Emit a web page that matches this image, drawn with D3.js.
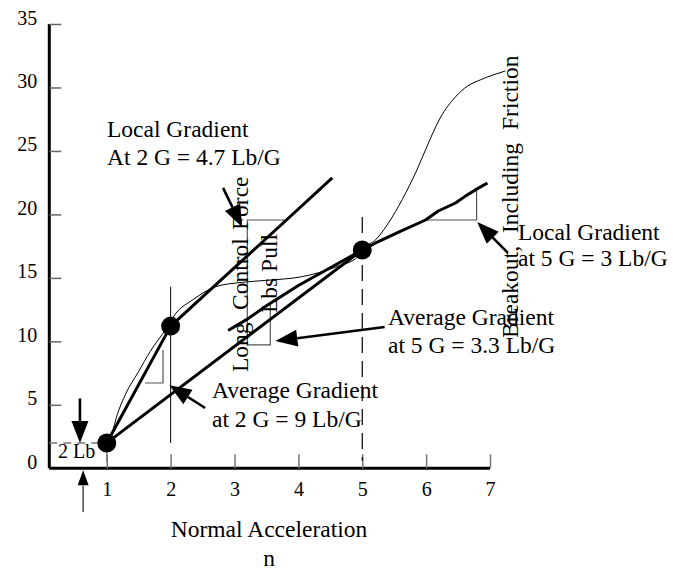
<!DOCTYPE html>
<html>
<head>
<meta charset="utf-8">
<script src="https://cdn.jsdelivr.net/npm/d3@7"></script>
<style>
  html, body { margin: 0; padding: 0; background: #fff; }
  svg { display: block; }
  text { font-family: "Liberation Serif", "Times New Roman", serif; fill: #000; }
</style>
</head>
<body>
<div id="chart"></div>
<script>
// Stick force vs. normal acceleration (n), with breakout and gradients.
const xTicks = [1, 2, 3, 4, 5, 6, 7];
const yTicks = [0, 5, 10, 15, 20, 25, 30, 35];

const breakout = 2;            // Lb, force at 1 G
const markedPoints = [         // [n, Lb]
  [1, 2], [2, 11.2], [5, 17.2]
];

// Curve including friction (thin)
const frictionCurve = [
  [1, 2], [1.09, 2.9], [1.15, 4.0], [1.30, 5.9], [1.49, 7.55], [1.68, 9.2],
  [1.93, 11.0], [2.08, 12.2], [2.34, 13.25], [2.70, 14.3], [3.12, 14.65],
  [3.48, 14.8], [4.06, 15.1], [4.58, 15.85], [4.94, 16.7], [5, 17.2],
  [5.21, 18.0], [5.47, 19.8], [5.68, 21.69], [5.84, 23.33], [5.99, 25.08],
  [6.22, 27.6], [6.46, 29.26], [6.65, 30.12], [6.85, 30.6], [7.24, 31.3]
];

// Local gradient line through the 2 G point (thick)
const tangent2G = [[1, 2], [2, 11.2], [3.8, 19.5], [4.53, 22.88]];

// Average gradient line 1 G -> 5 G (thick)
const chord5G = [[1, 2], [5, 17.2]];

// Stick force curve (thick)
const forceCurve = [
  [2.9, 10.85], [3.2, 11.75], [3.5, 12.8], [4.0, 14.4], [4.5, 15.8], [5, 17.2],
  [5.21, 17.75], [5.57, 18.6], [5.99, 19.56], [6.19, 20.27], [6.46, 20.9],
  [6.62, 21.46], [6.77, 21.93], [6.96, 22.48]
];

// Gradient construction lines (thin)
const bracketMid = [[3.77, 19.2], [3.77, 19.56], [3.20, 19.56], [3.20, 9.72], [3.56, 9.72], [3.56, 12.95]];
const tri2GAvg = [[1.60, 6.72], [1.88, 6.72], [1.88, 9.32]];
const tri5GLocal = [[5.99, 19.56], [6.79, 19.56], [6.79, 21.95]];

// Annotation arrows [fromN, fromLb, toN, toLb]
const arrows = [
  [2.82, 22.09, 3.12, 19.0],
  [2.54, 4.75, 1.98, 6.55],
  [5.35, 11.13, 3.64, 10.03],
  [7.28, 16.97, 6.80, 19.4],
  [0.58, 5.5, 0.58, 2.0]
];

const W = 673, H = 571;
const x = d3.scaleLinear().domain([0.1, 7]).range([49.3, 490]);
const y = d3.scaleLinear().domain([0, 35]).range([468.3, 24]);

const svg = d3.select("#chart").append("svg")
  .attr("width", W).attr("height", H);

// Axes
const xAxis = d3.axisBottom(x).tickValues(xTicks).tickSize(-14).tickPadding(14)
  .tickFormat(d3.format("d"));
const gx = svg.append("g").attr("transform", `translate(0,${y(0)})`).call(xAxis);
gx.select(".domain").attr("d", `M${x(0.1)},0H${x(7)}`).attr("stroke", "#000").attr("stroke-width", 3);
gx.selectAll(".tick line").attr("stroke", "#777").attr("stroke-width", 1.5);
gx.selectAll(".tick text").attr("font-size", 20).attr("dy", "0.71em")
  .style("font-family", "Liberation Serif, serif").attr("fill", "#000");

const yAxis = d3.axisLeft(y).tickValues(yTicks).tickSize(-12).tickPadding(12)
  .tickFormat(d3.format("d"));
const gy = svg.append("g").attr("transform", `translate(${x(0.1)},0)`).call(yAxis);
gy.select(".domain").attr("d", `M0,${y(0)}V${y(35)}`).attr("stroke", "#000").attr("stroke-width", 3);
gy.selectAll(".tick line").attr("stroke", "#666").attr("stroke-width", 1.5);
gy.selectAll(".tick line").filter(d => d === 0).remove();
gy.selectAll(".tick text").attr("font-size", 20).attr("dy", "0em")
  .style("font-family", "Liberation Serif, serif").attr("fill", "#000");

const line = d3.line().x(d => x(d[0])).y(d => y(d[1]));
const smooth = d3.line().x(d => x(d[0])).y(d => y(d[1])).curve(d3.curveMonotoneX);

// Breakout reference lines
svg.append("line")
  .attr("x1", x(0.1)).attr("x2", x(1)).attr("y1", y(breakout)).attr("y2", y(breakout))
  .attr("stroke", "#777").attr("stroke-width", 1.5).attr("stroke-dasharray", "8,6");
svg.append("line")
  .attr("x1", x(1)).attr("x2", x(1)).attr("y1", y(breakout)).attr("y2", y(0.5))
  .attr("stroke", "#777").attr("stroke-width", 1.2);

// Vertical reference at 2 G and dashed at 5 G
svg.append("line")
  .attr("x1", x(2)).attr("x2", x(2)).attr("y1", y(14.3)).attr("y2", y(2))
  .attr("stroke", "#000").attr("stroke-width", 1);
svg.append("line")
  .attr("x1", x(5)).attr("x2", x(5)).attr("y1", y(19.8)).attr("y2", y(0.6))
  .attr("stroke", "#000").attr("stroke-width", 1.2).attr("stroke-dasharray", "16,8");

// Gradient construction lines
[bracketMid, tri2GAvg, tri5GLocal].forEach(t => {
  svg.append("path").attr("d", line(t)).attr("fill", "none")
    .attr("stroke", "#555").attr("stroke-width", 1.2);
});

// Curves
svg.append("path").attr("d", smooth(frictionCurve)).attr("fill", "none")
  .attr("stroke", "#000").attr("stroke-width", 1);
svg.append("path").attr("d", line(tangent2G)).attr("fill", "none")
  .attr("stroke", "#000").attr("stroke-width", 3).attr("stroke-linejoin", "round");
svg.append("path").attr("d", line(chord5G)).attr("fill", "none")
  .attr("stroke", "#000").attr("stroke-width", 3);
svg.append("path").attr("d", line(forceCurve)).attr("fill", "none")
  .attr("stroke", "#000").attr("stroke-width", 3).attr("stroke-linejoin", "round");

// Marked points
svg.selectAll("circle.pt").data(markedPoints).join("circle")
  .attr("class", "pt").attr("cx", d => x(d[0])).attr("cy", d => y(d[1]))
  .attr("r", 9.5).attr("fill", "#000");

// Arrows
function arrow(x1, y1, x2, y2, color, hl, hw, sw) {
  const a = Math.atan2(y2 - y1, x2 - x1);
  const bx = x2 - hl * Math.cos(a), by = y2 - hl * Math.sin(a);
  svg.append("line").attr("x1", x1).attr("y1", y1).attr("x2", bx).attr("y2", by)
    .attr("stroke", color).attr("stroke-width", sw);
  const px = -Math.sin(a) * hw / 2, py = Math.cos(a) * hw / 2;
  svg.append("path")
    .attr("d", `M${x2},${y2}L${bx + px},${by + py}L${bx - px},${by - py}Z`)
    .attr("fill", "#000");
}
arrows.forEach(d => arrow(x(d[0]), y(d[1]), x(d[2]), y(d[3]), "#000", 22, 17, 2.6));
// Arrow from below the axis up to zero
arrow(x(0.63), 512, x(0.63), y(0) + 2, "#666", 15, 11, 1.8);

// Texts
function label(str, px, py, size, rot) {
  const t = svg.append("text").attr("font-size", size).text(str);
  if (rot) t.attr("transform", `translate(${px},${py}) rotate(-90)`);
  else t.attr("x", px).attr("y", py);
  return t;
}
const fs = 23.5;
label("Local Gradient", 107, 137, fs);
label("At 2 G = 4.7 Lb/G", 107, 165, fs);
label("Average Gradient", 212, 398, fs);
label("at 2 G = 9 Lb/G", 212, 427, fs);
label("Average Gradient", 388, 325, fs);
label("at 5 G = 3.3 Lb/G", 388, 353, fs);
label("Local Gradient", 518, 240, fs);
label("at 5 G = 3 Lb/G", 518, 266, fs);
label("2 Lb", 58, 458, 20);

label("Long", 248, 372, fs, true);
label("Control", 248, 310, fs, true);
label("Force", 248, 230, fs, true);
label("Lbs Pull", 277, 313, fs, true);
label("Breakout,", 518, 338, fs, true);
label("Including", 518, 233, fs, true);
label("Friction", 518, 130, fs, true);

label("Normal Acceleration", 269, 537, fs).attr("text-anchor", "middle");
label("n", 269, 566, fs).attr("text-anchor", "middle");
</script>
</body>
</html>
